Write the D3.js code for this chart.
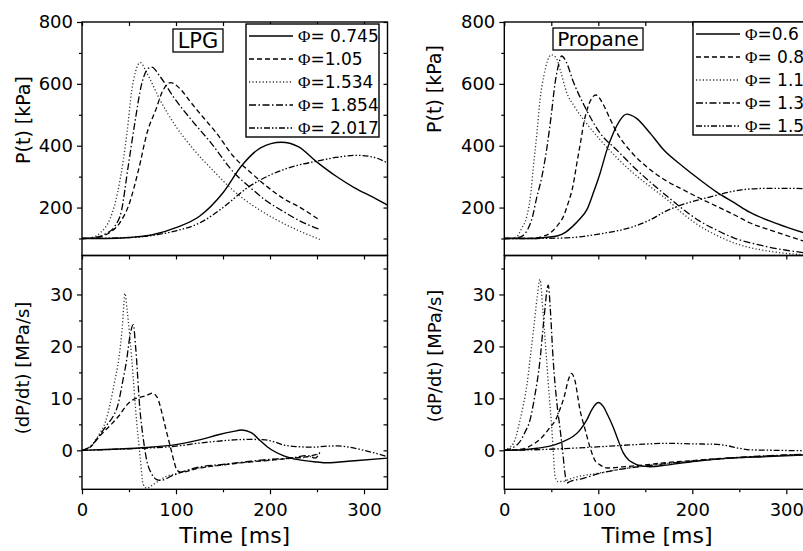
<!DOCTYPE html>
<html>
<head>
<meta charset="utf-8">
<script src="https://cdn.jsdelivr.net/npm/d3@7"></script>
<style>
  body { margin: 0; background: #fff; }
  svg { display: block; font-family: "DejaVu Sans", sans-serif; }
</style>
</head>
<body>
<svg id="chart" width="803" height="551"></svg>
<script>
// ---- data (time in ms, P in kPa, dP/dt in MPa/s) ----
var timeMajor = [0, 100, 200, 300];
var timeMinor = [50, 150, 250];
var pMajor = [200, 400, 600, 800];
var pMinor = [100, 300, 500, 700];
var dpMajor = [0, 10, 20, 30];
var dpMinor = [-5, 5, 15, 25, 35];

var lpgLegend = ["Φ= 0.745", "Φ=1.05", "Φ=1.534", "Φ= 1.854", "Φ= 2.017"];
var propaneLegend = ["Φ=0.6", "Φ= 0.8", "Φ= 1.1", "Φ= 1.3", "Φ= 1.5"];

// LPG pressure
var lpgP0745 = [[0,100],[25,100],[50,103],[75,112],[100,135],[125,172],[150,248],[170,336],[190,393],[212,411],[230,397],[250,347],[270,302],[290,264],[310,233],[325,208]];
var lpgP105 = [[0,100],[10,101],[20,106],[30,120],[40,150],[50,210],[60,320],[70,450],[78,512],[86,578],[94,604],[105,582],[115,543],[130,488],[143,441],[161,366],[180,312],[196,270],[215,228],[231,202],[253,159]];
var lpgP1534 = [[0,100],[10,103],[20,120],[30,165],[38,250],[44,355],[48,445],[53,580],[57,640],[62,669],[69,635],[83,548],[100,462],[119,387],[140,318],[161,255],[185,200],[206,162],[230,126],[253,97]];
var lpgP1854 = [[0,100],[15,104],[25,115],[35,140],[42,190],[49,330],[56,470],[63.5,600],[70.5,650],[74,654],[83,624],[97,559],[119,474],[137,410],[161,315],[180,262],[196,222],[215,186],[231,158],[253,129]];
var lpgP2017 = [[0,100],[50,103],[75,110],[100,125],[125,150],[150,200],[175,262],[200,305],[225,333],[250,350],[270,362],[292,369],[310,363],[325,344]];

// LPG pressure rise rate
var lpgD0745 = [[0,0],[25,0.15],[50,0.35],[75,0.65],[100,1.1],[125,2.0],[145,3.0],[160,3.6],[170,3.9],[180,3.4],[190,1.8],[197,0.7],[214,-1.0],[230,-1.8],[250,-2.25],[260,-2.4],[290,-2.0],[325,-1.5]];
var lpgD105 = [[0,0],[10,0.8],[19,2.8],[30,4.8],[40,6.8],[48,8.8],[55,9.8],[62,10.2],[68,10.5],[75,11],[80,10.2],[86,6.5],[90,3.5],[94,0.7],[98,-2.2],[101,-3.8],[105,-4.2],[125,-3.4],[150,-2.8],[175,-2.3],[200,-1.9],[225,-1.5],[240,-1.2],[253,-0.6]];
var lpgD1534 = [[0,0],[10,1.0],[19,3.3],[25,5.5],[30,9],[35,13.5],[39,17.4],[43,24],[45.7,30.2],[48,27],[53,17.4],[58,5.8],[62,-1.5],[65,-6.5],[69,-7.3],[74,-6.8],[79,-6.2],[90,-5.0],[100,-4.5],[125,-3.4],[150,-2.8],[175,-2.3],[200,-1.9],[225,-1.5],[240,-1.3],[253,-0.6]];
var lpgD1854 = [[0,0],[10,0.9],[19,3.0],[27,5.0],[33,6.5],[38.6,9],[43,13],[47.5,17.4],[51,22],[54.6,24.2],[57,20],[61.7,7.7],[65,2.5],[68.8,-1.9],[74,-4.5],[79,-5.6],[83,-5.8],[97,-4.8],[125,-3.2],[150,-2.7],[175,-2.2],[196,-1.8],[225,-1.4],[240,-1.0],[248,-1.5],[253,-0.4]];
var lpgD2017 = [[0,0],[50,0.3],[100,0.8],[125,1.4],[150,1.85],[165,2.05],[180,2.1],[195,2.0],[205,1.6],[215,1.0],[230,0.7],[245,0.6],[260,0.8],[272,0.85],[285,0.6],[300,0.0],[325,-1.2]];

// Propane pressure
var prP06 = [[0,100],[31,100],[45,104],[56,108],[65,120],[73,140],[80,162],[88,194],[95,250],[102,312],[109,385],[116,441],[123,482],[130,502],[140,490],[155,441],[170,385],[190,333],[208,290],[226,250],[245,215],[261,185],[290,148],[325,112]];
var prP08 = [[0,100],[31,101],[40,106],[49,118],[56,140],[63,172],[68,215],[73,269],[77,340],[81,409],[85,480],[88,516],[92,548],[97.5,564],[105,535],[112,490],[120,441],[135,380],[155,323],[172,287],[190,258],[208,230],[226,204],[245,176],[261,151],[290,120],[325,85]];
var prP11 = [[0,100],[8,101],[13,105],[18,130],[24,172],[28,240],[31,333],[35,450],[38,548],[42,625],[46,675],[50,694],[55,685],[60,640],[66,575],[75,525],[88,470],[102,419],[120,360],[137,312],[155,268],[173,226],[190,180],[208,140],[226,110],[244,86],[270,65],[300,52],[325,46]];
var prP13 = [[0,100],[10,101],[18,106],[25,130],[30,170],[34,226],[40,300],[45,387],[50,500],[54,602],[58,665],[61,690],[66,670],[73,610],[85,530],[101.8,441],[120,385],[137,333],[155,283],[173,237],[190,195],[208,156],[226,127],[244,102],[270,80],[300,62],[325,52]];
var prP15 = [[0,100],[30,100],[66,102],[102,115],[137,138],[155,160],[173,190],[190,210],[208,226],[226,240],[244,253],[261,260],[280,262],[300,262],[325,261]];

// Propane pressure rise rate
var prD06 = [[0,0],[20,0.1],[35,0.4],[48.6,0.8],[60,1.5],[73.4,2.7],[80,3.8],[87.6,5.8],[93,7.8],[100,9.2],[105,8.5],[110,6.8],[116,4.4],[121,2.0],[126.6,-0.5],[132,-1.8],[137,-2.4],[145,-3.0],[155,-3.15],[170,-2.9],[190,-2.4],[208,-2.0],[240,-1.5],[280,-1.2],[325,-0.85]];
var prD08 = [[0,0],[20,0.3],[31,1.2],[40,2.5],[48.6,4.4],[55,6.0],[59,7.8],[64,10.5],[68,13.5],[71.6,14.8],[75,13.5],[80.5,7.8],[86,4.0],[91,0.7],[96,-1.8],[101.8,-2.8],[110,-3.4],[125,-3.2],[150,-2.8],[175,-2.3],[200,-2.0],[225,-1.6],[250,-1.4],[280,-1.1],[325,-0.75]];
var prD11 = [[0,0],[5,0.5],[9.6,1.3],[13,3.0],[16.7,5.8],[20,8.5],[24,12.5],[27.3,17.4],[31,23],[35,29.5],[38,32.9],[41,27],[45,17.4],[48,10],[50.4,4.6],[52,0],[54,-5.0],[57,-6.0],[62,-6.0],[70,-5.5],[80,-5.0],[100,-4.4],[125,-3.6],[150,-3.0],[175,-2.5],[200,-2.1],[225,-1.7],[250,-1.4],[280,-1.1],[325,-0.8]];
var prD13 = [[0,0],[8,0.4],[16.7,1.7],[22,3.5],[27.3,5.8],[32,10],[38,17.4],[42,25],[46.8,31.8],[49,27],[52,17.4],[56,9],[59,4.6],[62,0],[64.5,-4.4],[66.3,-6.3],[70,-6.0],[84,-5.4],[100,-4.5],[125,-3.6],[150,-3.0],[175,-2.5],[200,-2.1],[225,-1.7],[250,-1.35],[280,-1.05],[325,-0.75]];
var prD15 = [[0,0],[30,0.1],[60,0.3],[102,0.7],[140,1.1],[173,1.35],[200,1.25],[226,1.15],[237,0.9],[250,0.4],[261,0.1],[290,0],[325,-0.1]];

// ---- drawing ----
var svg = d3.select("#chart");
var dashes = [null, "5,3", "1.2,2.2", "7,2.5,1.5,2.5", "6,2,1.5,2,1.5,2"];
var plotW = 305.5;
var topY0 = 22, midY = 255.5, botY1 = 489.3;

function phiText(sel, label) {
    sel.append("tspan").attr("font-family", "'Liberation Serif', serif").text(label.charAt(0));
    sel.append("tspan").text(label.slice(1));
}

function drawColumn(opt) {
    var x = d3.scaleLinear().domain([0, 325]).range([opt.x0, opt.x0 + plotW]);
    var yP = d3.scaleLinear().domain([45, 800]).range([midY, topY0]);
    var yD = d3.scaleLinear().domain([-7.5, 37.5]).range([botY1, midY]);
    var g = svg.append("g");

    var clipId = "clip" + opt.id;
    svg.append("clipPath").attr("id", clipId)
        .append("rect").attr("x", opt.x0).attr("y", topY0)
        .attr("width", plotW).attr("height", botY1 - topY0);

    // curves
    var lineP = d3.line().x(function(d){ return x(d[0]); }).y(function(d){ return yP(d[1]); }).curve(d3.curveMonotoneX);
    var lineD = d3.line().x(function(d){ return x(d[0]); }).y(function(d){ return yD(d[1]); }).curve(d3.curveMonotoneX);
    var curves = g.append("g").attr("clip-path", "url(#" + clipId + ")");
    opt.pressure.forEach(function(s, i){
        curves.append("path").attr("d", lineP(s)).attr("fill", "none")
            .attr("stroke", i === 2 ? "#333" : "#000").attr("stroke-width", i === 0 ? 1.4 : 1.3)
            .attr("stroke-dasharray", dashes[i]);
    });
    opt.rate.forEach(function(s, i){
        curves.append("path").attr("d", lineD(s)).attr("fill", "none")
            .attr("stroke", i === 2 ? "#333" : "#000").attr("stroke-width", i === 0 ? 1.4 : 1.3)
            .attr("stroke-dasharray", dashes[i]);
    });

    // frames
    [[topY0, midY], [midY, botY1]].forEach(function(r){
        g.append("rect").attr("x", opt.x0).attr("y", r[0]).attr("width", plotW)
            .attr("height", r[1] - r[0]).attr("fill", "none").attr("stroke", "#000").attr("stroke-width", 1.4);
    });

    function axisG(axis, tx, ty, labels) {
        var a = g.append("g").attr("transform", "translate(" + tx + "," + ty + ")").call(axis);
        a.select(".domain").remove();
        a.selectAll("line").attr("stroke", "#000").attr("stroke-width", 1.2);
        a.selectAll("text").attr("fill", "#000").attr("font-size", 18).attr("font-family", "'DejaVu Sans', sans-serif");
        if (!labels) a.selectAll("text").remove();
        return a;
    }
    // left y axes
    axisG(d3.axisLeft(yP).tickValues(pMajor).tickSize(5).tickPadding(4).tickFormat(d3.format("d")), opt.x0, 0, true);
    axisG(d3.axisLeft(yP).tickValues(pMinor).tickSize(3), opt.x0, 0, false);
    axisG(d3.axisLeft(yD).tickValues(dpMajor).tickSize(5).tickPadding(4).tickFormat(d3.format("d")), opt.x0, 0, true);
    axisG(d3.axisLeft(yD).tickValues(dpMinor).tickSize(3), opt.x0, 0, false);
    // right y axes (inward)
    axisG(d3.axisRight(yP).tickValues(pMajor.concat(pMinor)).tickSize(-4), opt.x0 + plotW, 0, false);
    axisG(d3.axisRight(yD).tickValues(dpMajor.concat(dpMinor)).tickSize(-4), opt.x0 + plotW, 0, false);
    // top edges (inward)
    axisG(d3.axisTop(x).tickValues(timeMajor.concat(timeMinor)).tickSize(-4), 0, topY0, false);
    axisG(d3.axisTop(x).tickValues(timeMajor.concat(timeMinor)).tickSize(-4), 0, midY, false);
    // bottom x axis
    axisG(d3.axisBottom(x).tickValues(timeMajor).tickSize(5).tickPadding(9).tickFormat(d3.format("d")), 0, botY1, true);
    axisG(d3.axisBottom(x).tickValues(timeMinor).tickSize(3), 0, botY1, false);

    // axis titles
    g.append("text").attr("transform", "translate(" + opt.pTitle[0] + "," + opt.pTitle[1] + ") rotate(-90)")
        .attr("text-anchor", "middle").attr("font-size", 19).text("P(t) [kPa]");
    g.append("text").attr("transform", "translate(" + opt.dTitle[0] + "," + opt.dTitle[1] + ") rotate(-90)")
        .attr("text-anchor", "middle").attr("font-size", 18).text("(dP/dt) [MPa/s]");
    g.append("text").attr("x", x(162.5)).attr("y", 543).attr("text-anchor", "middle")
        .attr("font-size", 22).text("Time [ms]");

    // fuel label box
    var fb = opt.fuelBox;
    g.append("rect").attr("x", fb[0]).attr("y", fb[1]).attr("width", fb[2]).attr("height", fb[3])
        .attr("fill", "#fff").attr("stroke", "#000").attr("stroke-width", 1.3);
    g.append("text").attr("x", fb[0] + fb[2] / 2).attr("y", fb[1] + fb[3] - 4).attr("text-anchor", "middle")
        .attr("font-size", opt.fuelSize).text(opt.fuel);

    // legend
    var lb = opt.legendBox;
    var lg = g.append("g");
    lg.append("rect").attr("x", lb[0]).attr("y", lb[1]).attr("width", 133).attr("height", 113)
        .attr("fill", "#fff").attr("stroke", "#000").attr("stroke-width", 1.4);
    opt.legend.forEach(function(lab, i){
        var yy = lb[1] + 12 + i * 23;
        lg.append("line").attr("x1", lb[0] + 3).attr("x2", lb[0] + 47).attr("y1", yy).attr("y2", yy)
            .attr("stroke", i === 2 ? "#333" : "#000").attr("stroke-width", 1.3).attr("stroke-dasharray", dashes[i]);
        var t = lg.append("text").attr("x", lb[0] + 52).attr("y", yy).attr("dy", "0.36em").attr("font-size", 17);
        phiText(t, lab);
    });
}

drawColumn({
    id: "lpg", x0: 82, fuel: "LPG", fuelSize: 21, fuelBox: [173, 29, 50, 23],
    legendBox: [246, 24], legend: lpgLegend,
    pTitle: [30, 120], dTitle: [29, 368],
    pressure: [lpgP0745, lpgP105, lpgP1534, lpgP1854, lpgP2017],
    rate: [lpgD0745, lpgD105, lpgD1534, lpgD1854, lpgD2017]
});
drawColumn({
    id: "propane", x0: 504.3, fuel: "Propane", fuelSize: 20, fuelBox: [553, 28, 90, 22],
    legendBox: [693, 22], legend: propaneLegend,
    pTitle: [441, 89], dTitle: [441, 356],
    pressure: [prP06, prP08, prP11, prP13, prP15],
    rate: [prD06, prD08, prD11, prD13, prD15]
});
</script>
</body>
</html>
